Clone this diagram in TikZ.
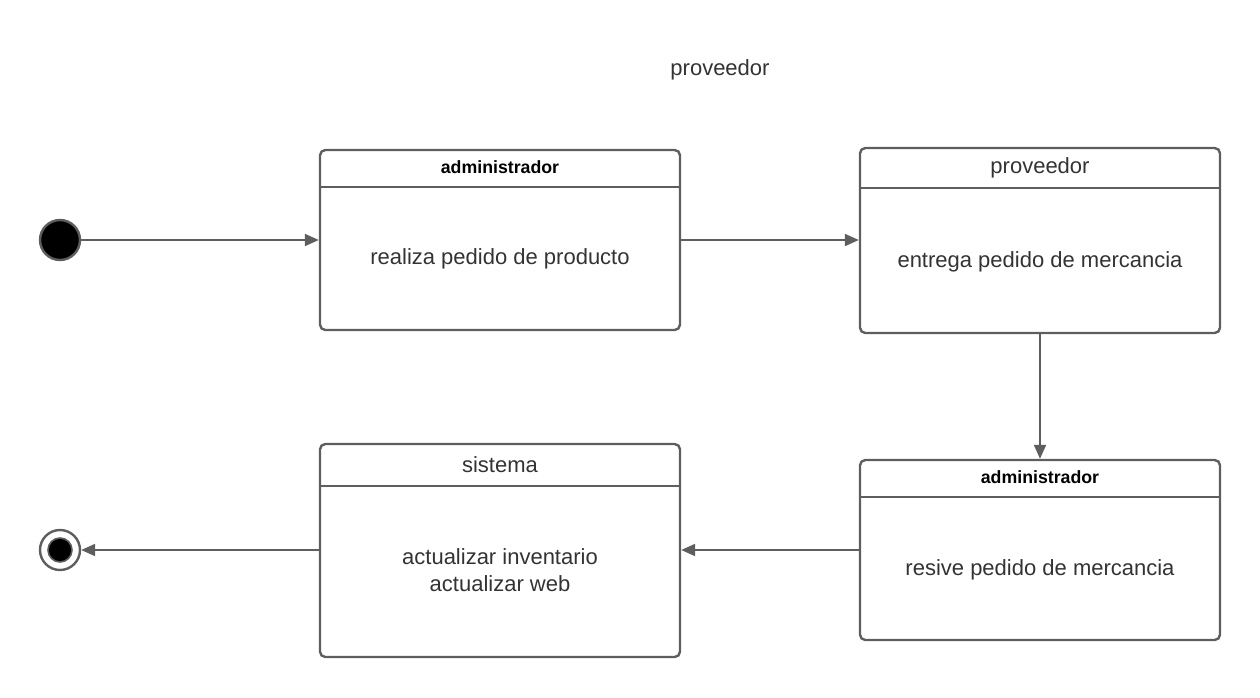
\documentclass[tikz,border=0pt]{standalone}
\usepackage{fontspec}
\setmainfont{Liberation Sans}
\usepackage{tikz}
\usetikzlibrary{arrows.meta,positioning}
\definecolor{gry}{HTML}{5E5E5E}
\definecolor{txt}{HTML}{333333}
\tikzstyle{st} = [rectangle, draw=gry, line width=1.8pt, rounded corners=4pt, minimum width=270pt]
\tikzstyle{sep} = [draw=gry, line width=1.8pt]
\tikzstyle{hd} = [font=\fontsize{16.5}{20}\selectfont, text=txt]
\tikzstyle{hb} = [font=\fontsize{13.3}{16}\selectfont\bfseries, text=black]
\tikzstyle{bd} = [font=\fontsize{16.5}{20.25}\selectfont, text=txt, align=center]
\tikzstyle{tr} = [draw=gry, line width=1.5pt, -{Triangle[length=10.5pt,width=9pt]}]

\begin{document}
\begin{tikzpicture}[x=0.75pt, y=-0.75pt]
\useasboundingbox (0,0) rectangle (1260,697);
\node(T)[hd] at (720,70) {proveedor};
% start and end states
\node(I)[circle, draw=gry, line width=1.8pt, fill=black, minimum size=30pt, inner sep=0pt] at (60,240) {};
\node(F)[circle, draw=gry, line width=1.8pt, fill=white, minimum size=30pt, inner sep=0pt] at (60,550) {};
\node(Fi)[circle, draw=gry, line width=1.2pt, fill=black, minimum size=18pt, inner sep=0pt] at (60,550) {};
% states
\node(A)[st, minimum height=135pt] at (500,240) {};
\node(B)[st, minimum height=138.75pt] at (1040,240.5) {};
\node(C)[st, minimum height=135pt] at (1040,550) {};
\node(D)[st, minimum height=159.75pt] at (500,550.5) {};
\draw[sep] (320,187) -- (680,187);
\draw[sep] (860,188) -- (1220,188);
\draw[sep] (860,497) -- (1220,497);
\draw[sep] (320,486) -- (680,486);
\node(Ah)[hb] at (500,167) {administrador};
\node(Bh)[hd] at (1040,168) {proveedor};
\node(Ch)[hb] at (1040,477) {administrador};
\node(Dh)[hd] at (500,465) {sistema};
\node(Ab)[bd] at (500,258.5) {realiza pedido de producto};
\node(Bb)[bd] at (1040,261.5) {entrega pedido de mercancia};
\node(Cb)[bd] at (1040,569.5) {resive pedido de mercancia};
\node(Db)[bd] at (500,570) {actualizar inventario\\actualizar web};
% transitions
\draw[tr] (I) -- (A);
\draw[tr] (A.east) -- (A.east -| B.west);
\draw[tr] (B) -- (C);
\draw[tr] (C.west) -- (C.west -| D.east);
\draw[tr] (D.west |- F) -- (F);
\end{tikzpicture}
\end{document}
